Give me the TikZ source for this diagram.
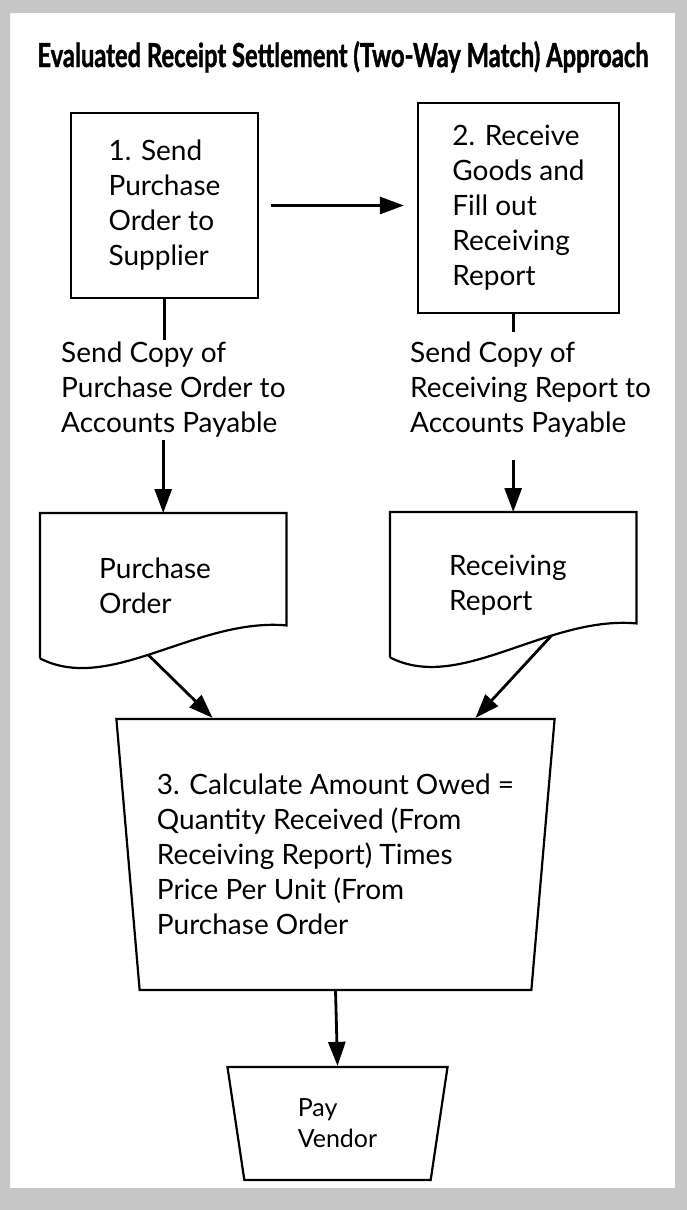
\documentclass[tikz,border=0pt]{standalone}
\usepackage{fontspec}
\setmainfont{Lato}
\newfontfamily\titlefont[FakeStretch=0.72, FakeBold=1.2]{Lato}
\usetikzlibrary{arrows.meta,shapes.geometric}

\begin{document}
\begin{tikzpicture}[
  x=1pt, y=-1pt,
  every node/.style={font=\fontsize{28}{35}\selectfont, inner sep=2pt},
  stepbox/.style={draw, line width=2.2pt, align=left},
  copytext/.style={align=left, anchor=north west},
  docbody/.style={
    anchor=north west,
    minimum width=246pt,
    minimum height=145pt,
    inner xsep=59pt,
    text width=128pt,
    align=left
  },
  calcbox/.style={
    draw,
    trapezium,
    trapezium stretches=true,
    line width=2.2pt,
    align=left
  },
  outline/.style={draw, line width=2.2pt},
  link/.style={line width=3pt},
  arr/.style={-{Triangle[length=24pt,width=17pt]}, line width=2.8pt},
]

% Frame.
\fill[gray!45, even odd rule] (0,0) rectangle (687,1210) (10,13) rectangle (675,1188);
\useasboundingbox (0,0) rectangle (687,1210);

\node[font=\titlefont\bfseries\fontsize{33}{40}\selectfont, anchor=base] (title) at (343,67)
  {Evaluated Receipt Settlement (Two-Way Match) Approach};

% Steps 1 and 2.
\node[stepbox, minimum width=187pt, minimum height=185pt] (send) at (164.5,205.5)
  {1. Send\\Purchase\\Order to\\Supplier};
\node[stepbox, minimum width=201pt, minimum height=210pt] (receive) at (518.5,208)
  {2. Receive\\Goods and\\Fill out\\Receiving\\Report};

\draw[arr, shorten <=12pt, shorten >=13pt] (send.east) -- (send.east -| receive.west);

% Copies to accounts payable.
\node[copytext] (pocopy) at (59,340) {Send Copy of\\Purchase Order to\\Accounts Payable};
\node[copytext] (rrcopy) at (408,340) {Send Copy of\\Receiving Report to\\Accounts Payable};

% Documents.
\node[docbody] (po) at (40,513) {Purchase\\Order};
\node[docbody] (rr) at (390,512) {Receiving\\Report};

\draw[outline] (po.south west) -- (po.north west) -- (po.north east) -- ([yshift=33pt]po.south east)
  .. controls +(-90,-8) and +(70,36) .. coordinate[pos=0.53] (powave) (po.south west);
\draw[outline] (rr.south west) -- (rr.north west) -- (rr.north east) -- ([yshift=34pt]rr.south east)
  .. controls +(-90,-8) and +(70,36) .. coordinate[pos=0.32] (rrwave) (rr.south west);

\draw[link] (send.south) -- (send.south |- pocopy.north);
\draw[link, shorten >=8pt] (receive.south -| rr.north) -- (rrcopy.north -| rr.north);
\draw[arr] (pocopy.south -| po.north) -- (po.north);
\draw[arr] ([yshift=-20pt]rrcopy.south -| rr.north) -- (rr.north);

% Step 3 and payment.
\node[calcbox, minimum width=439pt, minimum height=271pt,
  trapezium left angle=97.4, trapezium right angle=97.4] (calc) at (335.5,854.5)
  {3. Calculate Amount Owed =\\Quantity Received (From\\Receiving Report) Times\\Price Per Unit (From\\Purchase Order};
\node[calcbox, minimum width=221pt, minimum height=113pt,
  trapezium left angle=98.1, trapezium right angle=98.1,
  font=\fontsize{25}{31}\selectfont] (pay) at (337.5,1123.5) {Pay\\Vendor};

\draw[arr] (powave) -- ([xshift=-123pt]calc.north);
\draw[arr] (rrwave) -- ([xshift=140pt]calc.north);
\draw[arr] (calc.south) -- (pay.north);

\end{tikzpicture}
\end{document}
